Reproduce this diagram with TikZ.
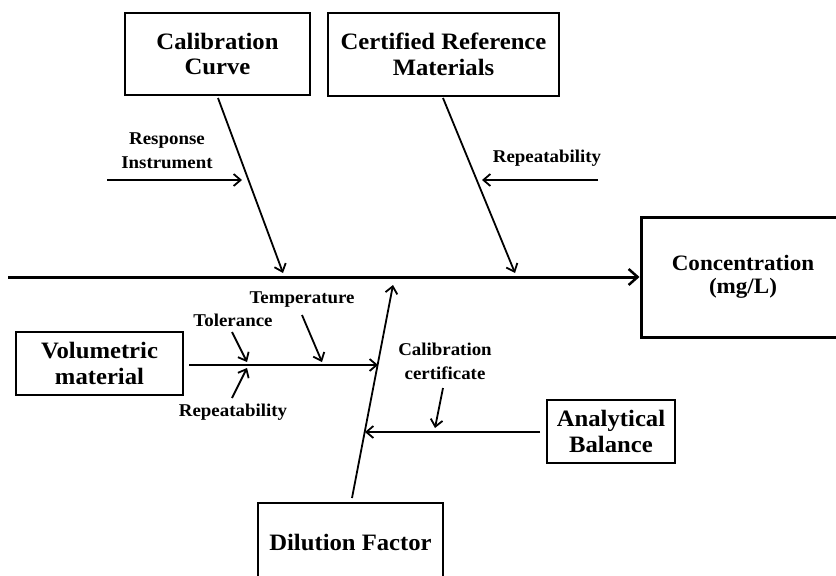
\documentclass[tikz,border=0pt]{standalone}
\usepackage{fontspec}
\setmainfont[FakeStretch=1.05]{Liberation Serif}
\usetikzlibrary{arrows.meta}
\begin{document}
\begin{tikzpicture}[x=1pt,y=-1pt,
  box/.style={draw,line width=1.2pt,inner sep=0pt,align=center,font=\bfseries\fontsize{23.5}{25.5}\selectfont},
  lbl/.style={inner sep=0pt,align=center,font=\bfseries\fontsize{18}{24}\selectfont},
  arr/.style={line width=1.8pt,-{Straight Barb[length=7pt,width=12pt,line width=1.8pt]}},
  spine/.style={line width=3pt,-{Straight Barb[length=9pt,width=16pt,line width=2.5pt]}}]
\clip (0,0) rectangle (836,576);
\fill[white] (0,0) rectangle (836,576);
% boxes
\node[box,minimum width=185pt,minimum height=82pt] (cc) at (217.5,54) {Calibration\\Curve};
\node[box,minimum width=231pt,minimum height=83pt] (crm) at (443.5,54.5) {Certified Reference\\Materials};
\node[box,line width=3pt,minimum width=204pt,minimum height=120pt,font=\bfseries\fontsize{22}{23.5}\selectfont] (conc) at (743,277) {Concentration\\(mg/L)};
\node[box,minimum width=167pt,minimum height=63pt] (vol) at (99.5,363.5) {Volumetric\\material};
\node[box,minimum width=128pt,minimum height=63pt] (bal) at (611,431.5) {Analytical\\Balance};
\node[box,minimum width=185pt,minimum height=78pt] (dil) at (350.5,542) {Dilution Factor};
% labels
\node[lbl] (resp) at (167,150.5) {Response\\Instrument};
\node[lbl] (rep1) at (547,158) {Repeatability};
\node[lbl] (tol) at (233,320) {Tolerance};
\node[lbl] (rep2) at (233,412) {Repeatability};
\node[lbl] (temp) at (302,300) {Temperature};
\node[lbl] (cert) at (445,361.5) {Calibration\\certificate};
% coordinates
\coordinate (sL) at (8,277);
\coordinate (ccS) at (218,98);
\coordinate (ccE) at (283,273);
\coordinate (crmS) at (443,98);
\coordinate (crmE) at (515,273);
\coordinate (respS) at (107,180);
\coordinate (respE) at (242,180);
\coordinate (rep1S) at (598,180);
\coordinate (rep1E) at (482,180);
\coordinate (dilS) at (352,498);
\coordinate (dilE) at (393,285);
\coordinate (volS) at (189,365);
\coordinate (volE) at (378,365);
\coordinate (balS) at (540,432);
\coordinate (balE) at (365,432);
\coordinate (certS) at (443,388);
\coordinate (certE) at (435,428);
\coordinate (tolS) at (232,332);
\coordinate (tolE) at (247,362);
\coordinate (rep2S) at (232,398);
\coordinate (rep2E) at (247,368);
\coordinate (tempS) at (302,315);
\coordinate (tempE) at (322,362);
% connectors
\draw[spine] (sL) -- (conc.west);
\draw[arr] (ccS) -- (ccE);
\draw[arr] (crmS) -- (crmE);
\draw[arr] (respS) -- (respE);
\draw[arr] (rep1S) -- (rep1E);
\draw[arr] (dilS) -- (dilE);
\draw[arr] (volS) -- (volE);
\draw[arr] (balS) -- (balE);
\draw[arr] (certS) -- (certE);
\draw[arr] (tolS) -- (tolE);
\draw[arr] (rep2S) -- (rep2E);
\draw[arr] (tempS) -- (tempE);
\end{tikzpicture}
\end{document}
